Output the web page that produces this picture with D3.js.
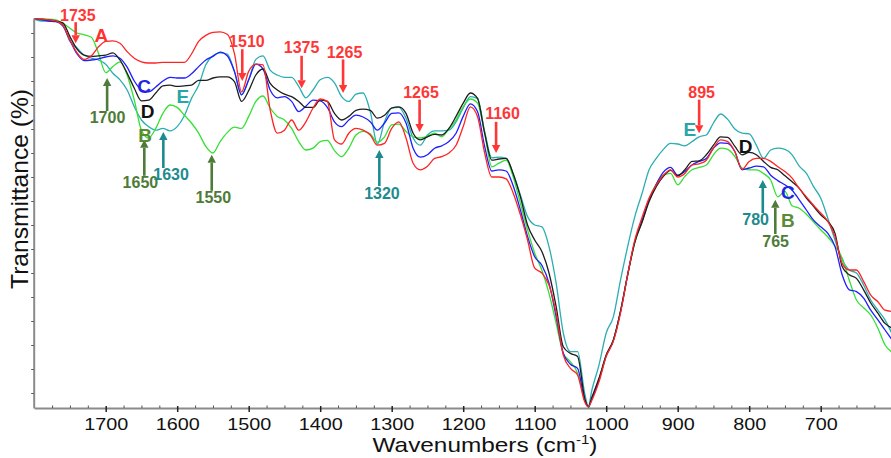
<!DOCTYPE html>
<html><head><meta charset="utf-8">
<script src="https://cdn.jsdelivr.net/npm/d3@7/dist/d3.min.js"></script>
<style>html,body{margin:0;padding:0;background:#fff;overflow:hidden}</style>
</head><body><svg id="chart" width="891" height="458"></svg>
<script>
// ---- data (wavenumbers in cm-1, transmittance in arbitrary units) ----
const wavenumbers = [
 1800,1790,1780,1770,1760,1750,1740,1730,1720,1710,
 1700,1690,1680,1670,1660,1650,1640,1630,1620,1610,
 1600,1590,1580,1570,1560,1550,1540,1530,1520,1510,
 1500,1490,1480,1470,1460,1450,1440,1430,1420,1410,
 1400,1390,1380,1370,1360,1350,1340,1330,1320,1310,
 1300,1290,1280,1270,1260,1250,1240,1230,1220,1210,
 1200,1190,1180,1170,1160,1150,1140,1130,1120,1110,
 1100,1090,1080,1070,1060,1050,1040,1030,1025,1020,
 1010,1000,990,980,970,960,950,940,930,920,
 910,900,890,880,870,860,850,840,830,820,
 810,800,790,780,770,760,750,740,730,720,
 710,700,690,680,670,660,650,640,630,620,
 610,600];
const seriesA = [
 62.3,62.3,62.2,62.0,61.3,58.8,56.7,55.6,56.2,57.7,
 58.6,58.7,58.3,56.9,55.8,55.2,55.0,55.0,55.1,55.1,
 55.1,55.1,56.5,58.6,59.6,60.1,60.2,59.8,56.6,50.2,
 53.6,54.8,54.7,47.2,43.3,43.8,45.5,43.8,45.2,47.5,
 49.0,48.6,42.2,41.5,43.3,44.1,43.8,43.0,41.3,41.6,
 44.1,45.2,42.5,38.3,37.2,37.8,39.1,39.4,40.0,41.3,
 44.4,47.7,46.1,40.0,36.0,36.0,35.7,33.3,29.7,25.5,
 20.8,20.0,18.0,13.3,6.3,4.1,3.0,-1.5,-2.3,-1.2,
 1.9,6.1,8.6,13.3,19.7,25.5,29.2,32.5,34.7,36.3,
 37.2,36.0,36.6,38.0,38.2,38.8,40.8,42.2,41.9,40.2,
 37.3,38.6,39.1,39.1,38.6,37.7,36.9,35.8,34.1,32.7,
 31.3,30.0,28.6,26.1,21.6,20.5,20.5,18.6,16.3,15.2,
 13.8,13.6];
const seriesB = [
 62.3,62.3,62.3,62.2,61.6,60.8,60.0,59.7,59.3,56.6,
 53.4,54.4,55.2,53.0,48.8,43.8,42.5,44.1,46.6,48.0,
 47.6,46.3,45.0,43.3,41.1,40.0,41.9,43.4,44.3,44.1,
 46.1,48.6,49.5,47.5,46.1,45.5,44.1,41.9,40.5,40.8,
 41.9,42.1,40.4,39.4,40.8,43.0,43.6,43.2,41.8,42.7,
 44.7,44.8,43.6,42.7,42.5,42.8,43.3,42.7,44.0,45.5,
 47.7,49.0,48.3,43.3,37.7,38.3,38.8,36.0,31.6,27.2,
 23.3,20.5,16.6,11.6,6.6,5.2,3.3,-1.2,-2.3,-0.9,
 2.2,6.1,8.8,13.6,19.7,25.0,28.5,32.2,34.8,36.3,
 36.6,34.7,36.1,37.2,37.6,38.0,39.7,40.8,40.6,39.4,
 37.5,37.2,37.2,36.6,35.5,32.7,33.6,31.2,30.8,29.8,
 28.5,27.2,26.0,24.5,22.5,18.8,15.5,14.2,13.0,10.8,
 8.0,6.8];
const seriesC = [
 62.3,62.2,62.0,61.9,61.2,58.8,56.5,55.4,55.5,55.7,
 56.0,56.2,55.8,54.3,52.0,50.5,50.2,51.0,52.0,52.6,
 52.5,52.5,53.2,54.4,55.5,56.1,56.8,56.2,53.6,49.7,
 52.2,54.8,54.0,50.5,49.2,49.4,48.6,46.9,47.8,48.8,
 48.7,47.6,45.2,44.4,45.5,46.3,46.0,45.2,43.8,45.0,
 46.6,46.7,45.0,40.8,39.3,39.7,40.8,41.2,41.9,43.3,
 46.1,48.2,46.9,41.1,37.0,37.2,37.0,34.5,30.5,26.1,
 22.7,21.3,18.3,12.7,6.6,4.8,4.1,-1.2,-2.3,-0.9,
 2.2,6.3,8.8,13.6,19.7,25.2,28.7,32.2,34.8,36.8,
 37.6,36.3,36.9,38.0,38.6,39.1,40.8,41.7,41.6,40.2,
 37.2,37.5,37.8,37.7,36.3,35.4,34.7,33.8,32.2,30.5,
 28.8,27.7,26.6,24.4,19.7,17.2,16.9,15.8,13.8,12.2,
 10.5,8.8];
const seriesD = [
 62.3,62.3,62.2,62.0,61.7,59.4,57.3,56.3,56.1,56.2,
 56.3,56.7,55.5,53.3,50.8,48.7,48.8,50.0,51.2,51.3,
 51.1,51.2,51.3,52.1,52.1,52.5,52.7,52.7,51.9,48.6,
 50.4,53.0,54.0,51.6,50.5,49.8,49.4,48.6,47.6,47.6,
 48.8,48.6,46.6,45.5,46.1,47.1,47.3,47.1,45.8,46.3,
 47.5,47.7,46.6,43.3,42.2,42.7,43.1,43.0,44.1,46.1,
 48.3,50.0,49.1,43.3,38.8,39.0,39.1,36.5,32.7,28.0,
 25.5,23.6,20.0,14.4,7.7,6.6,6.1,-0.9,-2.3,-0.7,
 2.5,6.3,8.8,13.6,19.7,25.2,28.4,31.9,34.4,36.1,
 37.1,36.2,37.2,38.6,38.7,39.7,41.3,42.7,42.6,41.1,
 39.7,40.1,39.7,38.6,37.6,37.2,36.2,35.2,34.1,32.5,
 31.1,29.7,28.6,26.6,21.1,19.7,19.1,17.2,15.0,13.3,
 11.6,10.8];
const seriesE = [
 62.3,62.0,62.0,62.0,61.3,58.6,57.5,56.3,55.8,55.5,
 54.8,53.3,52.2,50.5,47.7,45.5,44.4,43.8,44.1,43.7,
 44.4,46.2,49.1,51.3,54.7,56.2,56.7,56.5,53.6,49.7,
 52.2,55.6,56.2,53.8,53.0,52.6,52.6,51.1,49.2,50.5,
 52.2,52.6,51.7,49.4,48.6,49.8,50.0,46.9,41.5,45.2,
 47.5,47.6,45.8,42.5,41.3,43.0,43.7,43.7,43.8,45.2,
 47.5,49.4,49.1,43.6,39.2,39.3,39.1,36.5,33.0,29.4,
 28.0,27.7,24.4,18.3,10.0,6.9,6.9,-0.1,-2.2,0.5,
 4.7,10.0,12.7,18.8,24.4,29.4,33.2,37.2,39.1,40.6,
 41.6,41.5,41.2,41.9,42.7,43.0,45.0,46.5,45.6,44.0,
 43.3,43.2,41.3,39.1,40.5,40.8,40.6,39.7,37.8,36.6,
 34.4,32.5,29.1,25.5,22.2,20.5,20.0,18.0,15.5,13.8,
 12.2,9.8];

const xTickValues = [1700,1600,1500,1400,1300,1200,1100,1000,900,800,700];
const xMinorTicks = [1775,1750,1725,1675,1650,1625,1575,1550,1525,1475,1450,1425,1375,1350,1325,1275,1250,1225,1175,1150,1125,1075,1050,1025,975,950,925,875,850,825,775,750,725,675,650,625];
const yTickValues = [0,4,8,12,16,20,24,28,32,36,40,44,48,52,56,60];

// draw order: E, B, C, D, A
const series = [
  {name:"E", values: seriesE, color:"#2aaeb2"},
  {name:"B", values: seriesB, color:"#33e033"},
  {name:"C", values: seriesC, color:"#1e1eff"},
  {name:"D", values: seriesD, color:"#1e1e1e"},
  {name:"A", values: seriesA, color:"#ff2424"}
];

const RED = "#ff3636", DGREEN = "#4e7c38", TEAL = "#1d8b8d";
// arrows: x (cm-1), tail value -> head value; label at (tx, ty)
const annotations = [
  {label:"1735", color:RED,    x:1742,   from:61.8, to:58.3, tx:1739,   ty:62.0},
  {label:"1510", color:RED,    x:1509,   from:57.3, to:52.0, tx:1502.5, ty:57.7},
  {label:"1375", color:RED,    x:1426,   from:56.2, to:50.8, tx:1426,   ty:56.6},
  {label:"1265", color:RED,    x:1368,   from:55.6, to:50.0, tx:1366,   ty:55.8},
  {label:"1265", color:RED,    x:1261,   from:48.9, to:43.5, tx:1259,   ty:49.1},
  {label:"1160", color:RED,    x:1154,   from:45.2, to:40.0, tx:1145,   ty:45.6},
  {label:"895",  color:RED,    x:870,    from:48.9, to:43.3, tx:866.5,  ty:49.1},
  {label:"1700", color:DGREEN, x:1698,   from:47.0, to:52.5, tx:1697.5, ty:45.0},
  {label:"1650", color:DGREEN, x:1646,   from:36.2, to:42.2, tx:1651.5, ty:34.1},
  {label:"1630", color:TEAL,   x:1619.4, from:37.5, to:43.5, tx:1608.5, ty:35.5},
  {label:"1550", color:DGREEN, x:1551.7, from:33.7, to:39.7, tx:1549.5, ty:31.6},
  {label:"1320", color:TEAL,   x:1317.3, from:34.5, to:40.5, tx:1313.6, ty:32.4},
  {label:"780",  color:TEAL,   x:781,    from:30.0, to:35.5, tx:791,    ty:28.0},
  {label:"765",  color:DGREEN, x:763.5,  from:26.5, to:32.2, tx:763,    ty:24.4}
];
const letters = [
  {t:"A", color:"#ff3030", x:1706,   y:58.5},
  {t:"B", color:"#5a8c38", x:1645,   y:41.8},
  {t:"C", color:"#2424e6", x:1646.4, y:50.0},
  {t:"D", color:"#111111", x:1641.5, y:45.8},
  {t:"E", color:"#26a6a8", x:1592,   y:48.3},
  {t:"E", color:"#26a6a8", x:883,    y:42.9},
  {t:"D", color:"#111111", x:805,    y:40.0},
  {t:"C", color:"#2424e6", x:746,    y:32.3},
  {t:"B", color:"#5a8c38", x:746,    y:27.7}
];

// ---- scales ----
const svg = d3.select("#chart");
const x = d3.scaleLinear().domain([1800, 600]).range([34.2, 892.2]);
const y = d3.scaleLinear().domain([-2.5, 62.5]).range([408, 18]);
const AXIS = "#8a8a8a";

// ---- curves ----
const line = d3.line().x((d,i)=>x(wavenumbers[i])).y(d=>y(d)).curve(d3.curveMonotoneX);
svg.append("g").selectAll("path").data(series).join("path")
  .attr("d", d=>line(d.values)).attr("fill","none")
  .attr("stroke", d=>d.color).attr("stroke-width",1.3).attr("stroke-linejoin","round");

// ---- axes ----
const gx = svg.append("g").attr("transform",`translate(0,${y(-2.5)})`)
  .call(d3.axisBottom(x).tickValues(xTickValues).tickSizeInner(4).tickSizeOuter(0).tickPadding(6).tickFormat(d3.format("d")));
gx.select(".domain").attr("stroke",AXIS).attr("stroke-width",2);
gx.selectAll(".tick line").attr("stroke","#222").attr("stroke-width",1.5).attr("y1",-2);
gx.selectAll(".tick text").attr("fill","#111").attr("font-family","'Liberation Sans', Arial, sans-serif")
  .attr("font-size",16.5).attr("transform","scale(1.2,1)").attr("dy","0.74em");

const gxm = svg.append("g").attr("transform",`translate(0,${y(-2.5)})`)
  .call(d3.axisBottom(x).tickValues(xMinorTicks).tickSize(-2.5).tickFormat(""));
gxm.select(".domain").remove();
gxm.selectAll(".tick line").attr("stroke","#555").attr("stroke-width",1);

const gy = svg.append("g").attr("transform",`translate(${x(1800)-0.5},0)`)
  .call(d3.axisLeft(y).tickValues(yTickValues).tickSizeInner(2.5).tickSizeOuter(0).tickFormat(""));
gy.select(".domain").attr("stroke",AXIS).attr("stroke-width",2);
gy.selectAll(".tick line").attr("stroke","#555").attr("stroke-width",1);

// axis titles
const xt = svg.append("text").attr("transform","translate(485,452) scale(1.16,1)")
  .attr("text-anchor","middle").attr("font-family","'Liberation Sans', Arial, sans-serif")
  .attr("font-size",21).attr("fill","#111");
xt.append("tspan").text("Wavenumbers (cm");
xt.append("tspan").text("-1").attr("font-size",13).attr("dy",-8);
xt.append("tspan").text(")").attr("dy",8);

svg.append("text").attr("transform","translate(28,189) rotate(-90) scale(1.07,1)")
  .attr("text-anchor","middle").attr("font-family","'Liberation Sans', Arial, sans-serif")
  .attr("font-size",23).attr("fill","#111").text("Transmittance (%)");

// ---- annotations ----
const ga = svg.append("g");
annotations.forEach(a=>{
  const px = x(a.x), y0 = y(a.from), y1 = y(a.to);
  const dir = y1 > y0 ? 1 : -1, head = 8, hw = 4.2;
  ga.append("line").attr("x1",px).attr("x2",px).attr("y1",y0).attr("y2",y1 - dir*head)
    .attr("stroke",a.color).attr("stroke-width",2.6);
  ga.append("path").attr("d",`M${px},${y1} L${px-hw},${y1-dir*head} L${px+hw},${y1-dir*head} Z`)
    .attr("fill",a.color);
  ga.append("text").attr("x",x(a.tx)).attr("y",y(a.ty)).attr("text-anchor","middle")
    .attr("font-family","'Liberation Sans Narrow', 'Arial Narrow', 'Liberation Sans', sans-serif")
    .attr("font-weight","bold").attr("font-size",16).attr("fill",a.color).text(a.label);
});
svg.append("g").selectAll("text").data(letters).join("text")
  .attr("x",d=>x(d.x)).attr("y",d=>y(d.y)).attr("text-anchor","middle")
  .attr("font-family","'Liberation Sans', Arial, sans-serif").attr("font-weight","bold")
  .attr("font-size",19).attr("fill",d=>d.color).text(d=>d.t);
</script></body></html>
